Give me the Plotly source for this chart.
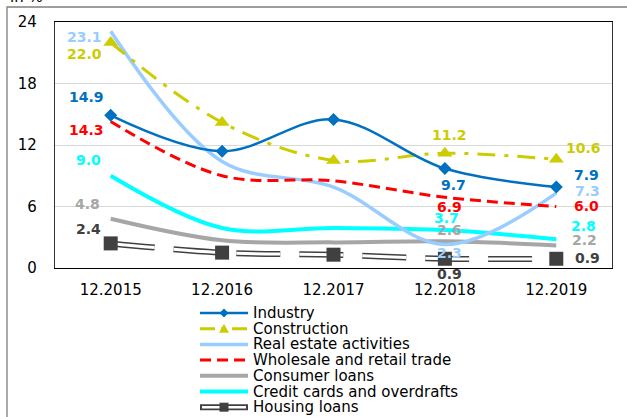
import plotly.graph_objects as go

# ---- data -------------------------------------------------------------
categories = ["12.2015", "12.2016", "12.2017", "12.2018", "12.2019"]

industry = [14.9, 11.4, 14.5, 9.7, 7.9]
construction = [22.0, 14.2, 10.5, 11.2, 10.6]
real_estate = [23.1, 10.4, 7.9, 2.3, 7.3]
wholesale = [14.3, 9.0, 8.5, 6.9, 6.0]
consumer = [4.8, 2.7, 2.5, 2.6, 2.2]
credit_cards = [9.0, 3.9, 3.9, 3.7, 2.8]
housing = [2.4, 1.5, 1.3, 0.9, 0.9]

series_names = [
    "Industry",
    "Construction",
    "Real estate activities",
    "Wholesale and retail trade",
    "Consumer loans",
    "Credit cards and overdrafts",
    "Housing loans",
]

y_ticks = [0, 6, 12, 18, 24]

# ---- styles -----------------------------------------------------------
FONT = "DejaVu Sans"
C_IND = "#0070C0"
C_CON = "#CCCC00"
C_RE = "#99CCFF"
C_WHS = "#FF0000"
C_CONS = "#A6A6A6"
C_CRED = "#00FFFF"
C_HOUS = "#404040"

DASH_CON = "18px,9px,4px,9px"
DASH_WHS = "11px,6px"
DASH_HOUS = "44px,19px"

W, H = 627, 417
M_L, M_R, M_T, M_B = 55, 15, 22, 149
PW, PH = W - M_L - M_R, H - M_T - M_B


def px_x(p):
    return (p - M_L) / PW


def px_y(p):
    return (H - M_B - p) / PH


fig = go.Figure()

SPLINE = dict(shape="spline", smoothing=1.0)


def add_line(values, name, color, width, dash="solid", marker=None):
    fig.add_trace(go.Scatter(
        x=categories, y=values, name=name, mode="lines+markers" if marker else "lines",
        line=dict(color=color, width=width, dash=dash, **SPLINE),
        marker=marker, showlegend=False, hoverinfo="x+y+name",
    ))


add_line(consumer, "Consumer loans", C_CONS, 4)
add_line(credit_cards, "Credit cards and overdrafts", C_CRED, 4)
add_line(real_estate, "Real estate activities", C_RE, 3.5)
add_line(wholesale, "Wholesale and retail trade", C_WHS, 3, DASH_WHS)
add_line(construction, "Construction", C_CON, 3, DASH_CON,
         dict(symbol="triangle-up", size=13, color=C_CON))
add_line(industry, "Industry", C_IND, 2.5, "solid",
         dict(symbol="diamond", size=10, color=C_IND))

# housing loans: double (outlined) dashed line with square markers
fig.add_trace(go.Scatter(
    x=categories, y=housing, mode="lines", showlegend=False, hoverinfo="skip",
    line=dict(color=C_HOUS, width=6, dash=DASH_HOUS, **SPLINE),
))
fig.add_trace(go.Scatter(
    x=categories, y=housing, mode="lines+markers", name="Housing loans",
    showlegend=False,
    line=dict(color="white", width=3, dash=DASH_HOUS, **SPLINE),
    marker=dict(symbol="square", size=14, color=C_HOUS),
))

# ---- value labels: (series values, colour, [(index, xshift, yshift), ...])
value_labels = [
    (real_estate, C_RE, [(0, -26, -6), (3, 5, -9), (4, 31, 2)]),
    (construction, C_CON, [(0, -26, -11), (3, 5, 18), (4, 27, 11)]),
    (industry, C_IND, [(0, -24, 18), (3, 9, -16), (4, 30, 12)]),
    (wholesale, C_WHS, [(0, -24, -9), (3, 5, -10), (4, 30, 1)]),
    (credit_cards, C_CRED, [(0, -22, 16), (3, 2, 12), (4, 27, 13)]),
    (consumer, C_CONS, [(0, -23, 15), (3, 5, 11), (4, 28, 5)]),
    (housing, C_HOUS, [(0, -22, 14), (3, 5, -15), (4, 31, 1)]),
]

annotations = []
for vals, color, spots in value_labels:
    for i, xs, ys in spots:
        annotations.append(dict(
            x=i, y=vals[i], xref="x", yref="y",
            text=f"<b>{vals[i]:.1f}</b>", showarrow=False, xshift=xs, yshift=ys,
            xanchor="center", yanchor="middle",
            font=dict(family=FONT, size=14, color=color),
        ))

# unit caption at the top-left corner
annotations.append(dict(
    x=px_x(8), y=px_y(8), xref="paper", yref="paper", text="in %",
    showarrow=False, xanchor="left", yanchor="bottom",
    font=dict(family=FONT, size=15, color="#000"),
))

# ---- legend built from shapes + text ---------------------------------
shapes = []
# outer chart frame
shapes.append(dict(type="rect", xref="paper", yref="paper",
                   x0=px_x(7), x1=px_x(640), y0=px_y(430), y1=px_y(7),
                   line=dict(color="#7F7F7F", width=1.3), layer="below"))

LG_X0, LG_X1, LG_TX = 200, 248, 251
LG_Y0, LG_DY = 313, 15.7
legend_styles = [
    dict(color=C_IND, width=2.5, dash="solid", sym="diamond"),
    dict(color=C_CON, width=3, dash="15px,6px,4px,7px", sym="triangle"),
    dict(color=C_RE, width=3.5, dash="solid", sym=None),
    dict(color=C_WHS, width=3, dash="11px,6px", sym=None),
    dict(color=C_CONS, width=4, dash="solid", sym=None),
    dict(color=C_CRED, width=4, dash="solid", sym=None),
    dict(color=C_HOUS, width=6, dash="solid", sym="square"),
]

for k, (name, st) in enumerate(zip(series_names, legend_styles)):
    yy = LG_Y0 + k * LG_DY
    shapes.append(dict(type="line", xref="paper", yref="paper",
                       x0=px_x(LG_X0), x1=px_x(LG_X1), y0=px_y(yy), y1=px_y(yy),
                       line=dict(color=st["color"], width=st["width"], dash=st["dash"])))
    if name == "Housing loans":
        shapes.append(dict(type="line", xref="paper", yref="paper",
                           x0=px_x(LG_X0 + 2), x1=px_x(LG_X1 - 2), y0=px_y(yy), y1=px_y(yy),
                           line=dict(color="white", width=2.5)))
    cx = (LG_X0 + LG_X1) / 2
    if st["sym"] == "diamond":
        r = 4.5
        path = (f"M {px_x(cx)},{px_y(yy - r)} L {px_x(cx + r)},{px_y(yy)} "
                f"L {px_x(cx)},{px_y(yy + r)} L {px_x(cx - r)},{px_y(yy)} Z")
        shapes.append(dict(type="path", xref="paper", yref="paper", path=path,
                           fillcolor=st["color"], line=dict(width=0)))
    elif st["sym"] == "triangle":
        r = 5
        path = (f"M {px_x(cx)},{px_y(yy - r)} L {px_x(cx + r)},{px_y(yy + r * 0.8)} "
                f"L {px_x(cx - r)},{px_y(yy + r * 0.8)} Z")
        shapes.append(dict(type="path", xref="paper", yref="paper", path=path,
                           fillcolor=st["color"], line=dict(width=0)))
    elif st["sym"] == "square":
        r = 4.5
        shapes.append(dict(type="rect", xref="paper", yref="paper",
                           x0=px_x(cx - r), x1=px_x(cx + r),
                           y0=px_y(yy + r), y1=px_y(yy - r),
                           fillcolor=st["color"], line=dict(width=0)))
    annotations.append(dict(
        x=px_x(LG_TX), y=px_y(yy), xref="paper", yref="paper", text=name,
        showarrow=False, xanchor="left", yanchor="middle",
        font=dict(family=FONT, size=15, color="#000"),
    ))

fig.update_layout(
    width=W, height=H,
    margin=dict(l=M_L, r=M_R, t=M_T, b=M_B),
    paper_bgcolor="white", plot_bgcolor="white",
    font=dict(family=FONT, size=15, color="#000"),
    showlegend=False,
    annotations=annotations,
    shapes=shapes,
    xaxis=dict(
        type="category", range=[-0.5, 4.5], showgrid=False,
        showline=True, linecolor="#000", linewidth=1.3, mirror=True,
        ticks="", ticklabelstandoff=8,
        tickfont=dict(family=FONT, size=15, color="#000"),
    ),
    yaxis=dict(
        range=[0, 24], tickvals=y_ticks, showgrid=True,
        gridcolor="#D9D9D9", gridwidth=1, zeroline=False,
        showline=True, linecolor="#333", linewidth=1.3, mirror=True,
        ticks="", ticklabelstandoff=14,
        tickfont=dict(family=FONT, size=15, color="#000"),
    ),
)

fig.write_html("out.html")
